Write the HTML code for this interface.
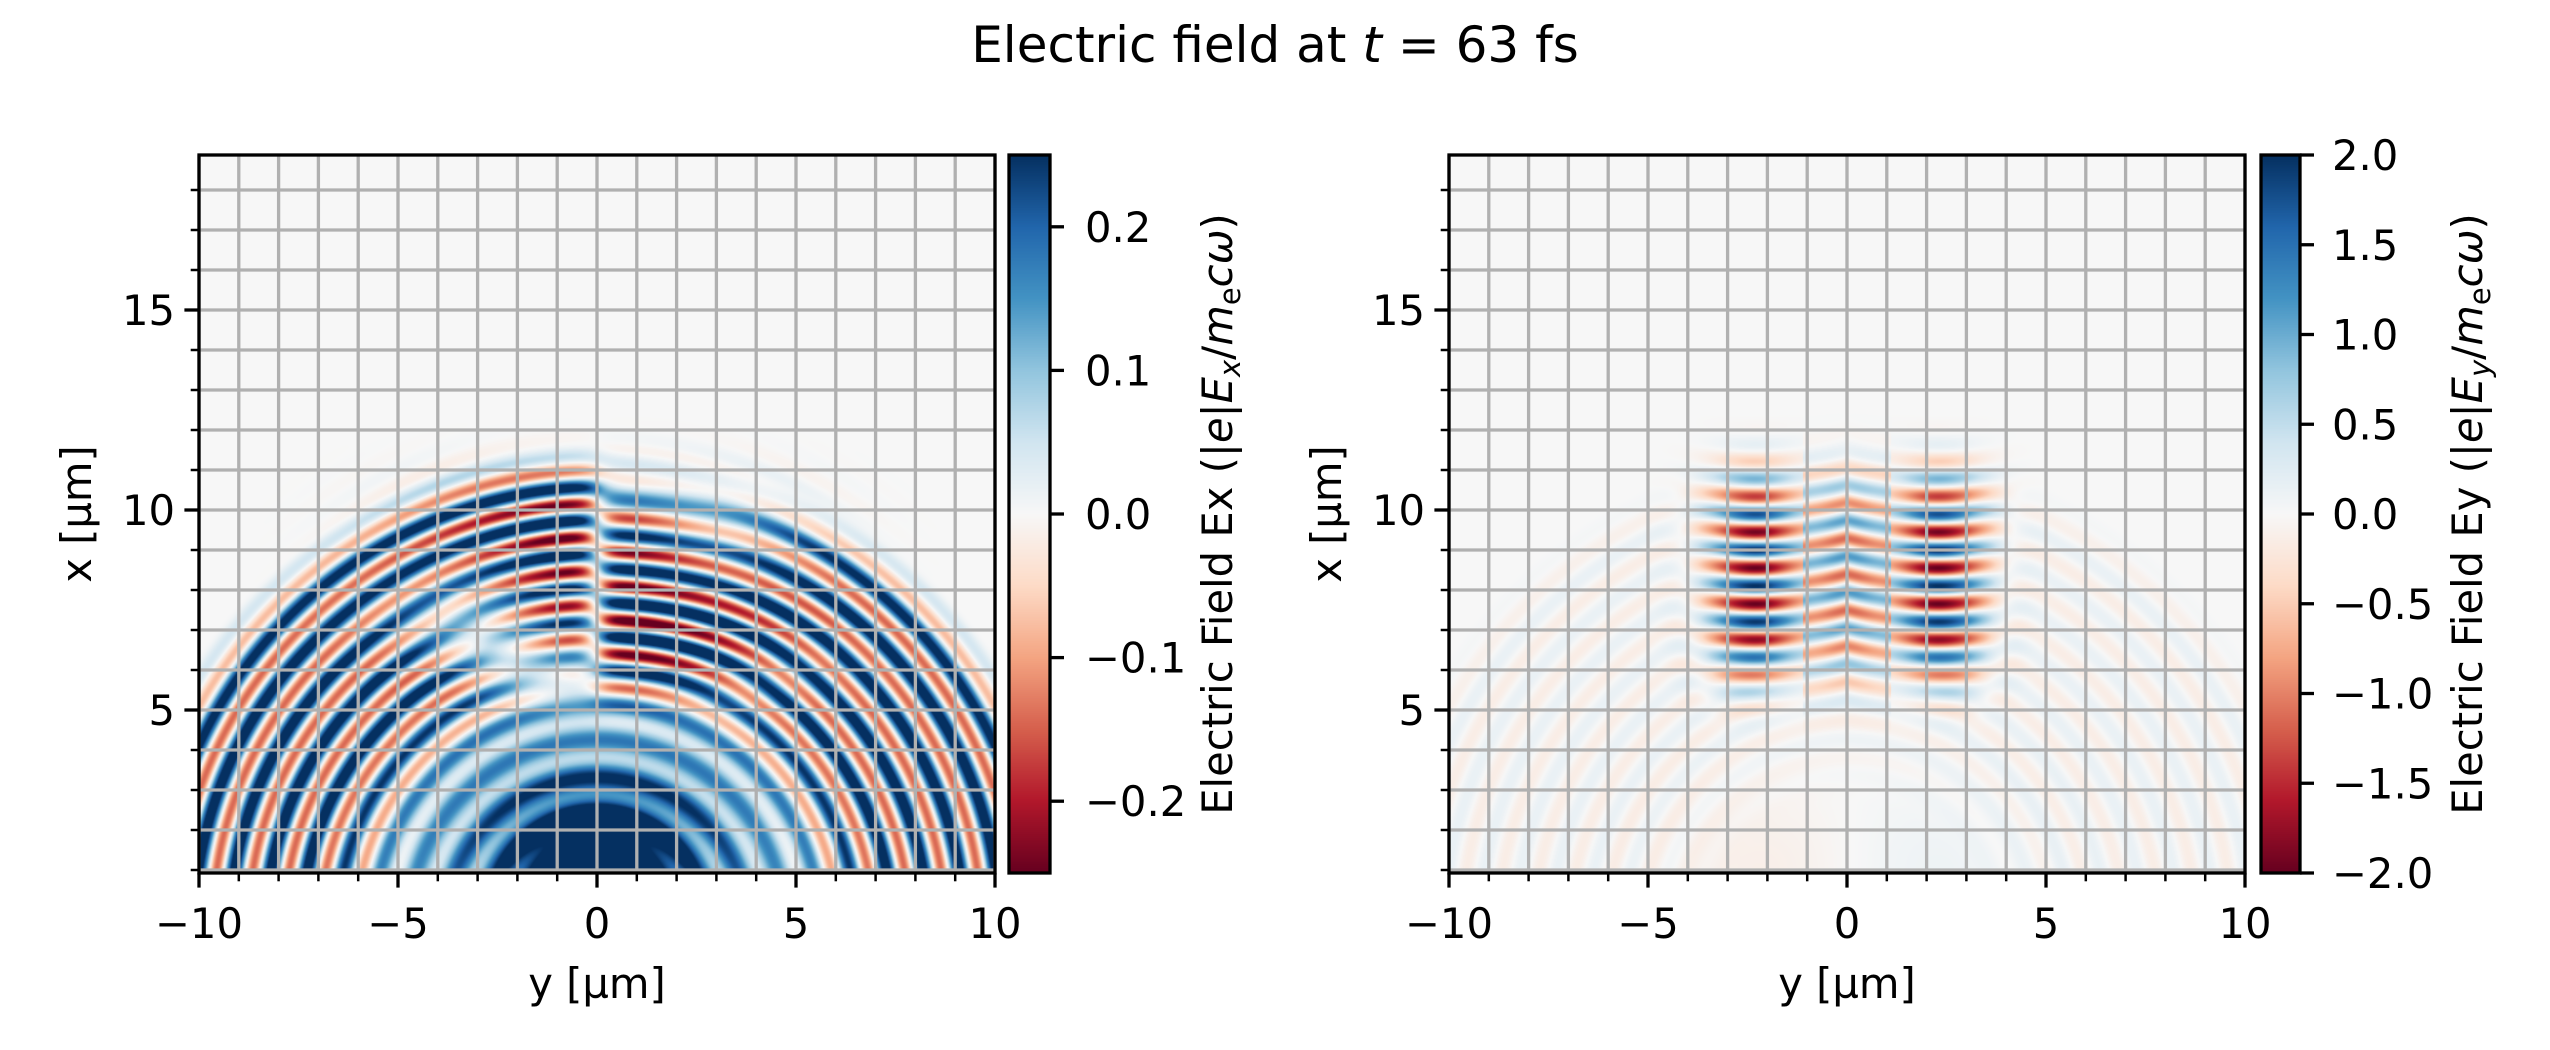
<!DOCTYPE html>
<html><head><meta charset="utf-8"><style>
body{margin:0;background:#fff;}
#w{position:relative;width:2550px;height:1050px;overflow:hidden;background:#fff;}
canvas{position:absolute;}
svg{position:absolute;left:0;top:0;}
text{font-family:"DejaVu Sans","Liberation Sans",sans-serif;fill:#000;}
</style></head><body><div id="w">
<canvas id="c1" width="796" height="718" style="left:199px;top:155px"></canvas>
<canvas id="c2" width="796" height="718" style="left:1449px;top:155px"></canvas>
<canvas id="cb1" width="41" height="718" style="left:1009px;top:155px"></canvas>
<canvas id="cb2" width="39" height="718" style="left:2261px;top:155px"></canvas>
<svg id="s" width="2550" height="1050"></svg>
</div>
<script>
var stops=[[103,0,31],[178,24,43],[214,96,77],[244,165,130],[253,219,199],[247,247,247],[209,229,240],[146,197,222],[67,147,195],[33,102,172],[5,48,97]];
function cmap(v){
 if(v<-1)v=-1; if(v>1)v=1;
 var t=(v+1)/2*10, i=Math.floor(t); if(i>=10)i=9; var f=t-i;
 var a=stops[i],b=stops[i+1];
 return [a[0]+(b[0]-a[0])*f,a[1]+(b[1]-a[1])*f,a[2]+(b[2]-a[2])*f];
}
var W=796,H=718,Y0=155,Y1=873,PU=40.0;
function py(x){return 510-(x-10)*PU;}
function xOf(p){return 10+(510-Y0-p)/PU;}
function yOf(px){return -10+px*20/W;}
function ss(a,b,x){var t=(x-a)/(b-a);t=t<0?0:t>1?1:t;return t*t*(3-2*t);}
function Ex(y,x){
 var r=Math.hypot(y,x+0.5);
 var amp=ss(12.2,10.8,r)*(0.3+0.7*ss(4.5,7.5,r));
 var ring=Math.sin(2*Math.PI*r/0.9);
 var v=0.22*amp*(ring+0.35);
 var ex=Math.exp(-Math.pow((x-8.2)/2.6,4))*Math.exp(-Math.pow(y/3.4,2));
 v=v*(1-0.7*ex)+0.3*ex*Math.cos(2*Math.PI*(x+0.05*y*y)/0.85)*Math.tanh(y/0.4);
 v+=0.3*Math.exp(-(Math.pow(y/2.8,2)+Math.pow((x-1.2)/2.2,2))*1.3);
 v+=0.07*ss(6,4.5,Math.hypot(y,x))*(1+0.3*Math.sin(2*Math.PI*r/1.2));
 return v/0.25;
}
function Ey(y,x){
 var ay=Math.abs(y);
 var col=Math.exp(-Math.pow((ay-2.3)/1.15,2));
 var cen=0.5*Math.exp(-Math.pow(y/0.9,2));
 var xe=Math.exp(-Math.pow((x-8.3)/2.7,4));
 var ph=2*Math.PI*(x-0.06*(ay-2.3)*(ay-2.3))/0.9+(ay<1.1?Math.PI:0);
 var v=2.0*(col+cen)*xe*Math.cos(ph);
 var r=Math.hypot(y,x+0.5);
 v+=0.14*ss(12.3,11,r)*ss(3,6,r)*Math.sin(2*Math.PI*r/0.9)*(1-xe*col);
 v+=-0.12*Math.exp(-(Math.pow((y+2)/2.5,2)+Math.pow((x-1)/2,2)));
 v+=0.1*Math.exp(-(Math.pow((y-2)/2.5,2)+Math.pow((x-1)/2,2)));
 return v/2;
}
function draw(id,f){
 var c=document.getElementById(id).getContext('2d');var im=c.createImageData(W,H);var d=im.data;
 for(var p=0;p<H;p++){var x=xOf(p+0.5);for(var px=0;px<W;px++){var y=yOf(px+0.5);var col=cmap(f(y,x));var k=(p*W+px)*4;d[k]=col[0];d[k+1]=col[1];d[k+2]=col[2];d[k+3]=255;}}
 c.putImageData(im,0,0);
}
draw('c1',Ex);draw('c2',Ey);
function cbar(id,w){var c=document.getElementById(id).getContext('2d');for(var p=0;p<H;p++){var col=cmap(1-2*p/(H-1));c.fillStyle='rgb('+col.map(Math.round).join(',')+')';c.fillRect(0,p,w,1);}}
cbar('cb1',41);cbar('cb2',39);

var s='';
function L(x1,y1,x2,y2,c,w){s+='<line x1="'+x1+'" y1="'+y1+'" x2="'+x2+'" y2="'+y2+'" stroke="'+c+'" stroke-width="'+w+'"/>';}
function T(x,y,t,a,extra){s+='<text x="'+x+'" y="'+y+'" font-size="41.7" text-anchor="'+(a||'middle')+'" '+(extra||'')+'>'+t+'</text>';}
var MID=(Y0+Y1)/2;
[[199,995],[1449,2245]].forEach(function(ax){
 var X0=ax[0],X1=ax[1];
 for(var i=-10;i<=10;i++){var px=X0+(i+10)*(X1-X0)/20;L(px,Y0,px,Y1,'#b0b0b0',3.3);
  L(px,Y1,px,Y1+(i%5==0?14.6:8.3),'#000',(i%5==0?3.3:2.5));}
 for(var x=1;x<=18;x++){var p=py(x);L(X0,p,X1,p,'#b0b0b0',3.3);L(X0,p,X0-(x%5==0?14.6:8.3),p,'#000',(x%5==0?3.3:2.5));}
 s+='<rect x="'+X0+'" y="'+Y0+'" width="'+(X1-X0)+'" height="'+(Y1-Y0)+'" fill="none" stroke="#000" stroke-width="3.3"/>';
 [-10,-5,0,5,10].forEach(function(v){var px=X0+(v+10)*(X1-X0)/20;T(px,938,(v<0?'\u2212':'')+Math.abs(v));});
 [5,10,15].forEach(function(v){T(X0-24,py(v)+15,v,'end');});
 T((X0+X1)/2,998,'y [µm]');
 T(0,0,'x [µm]','middle','transform="translate('+(X0-108)+','+MID+') rotate(-90)"');
});
s+='<rect x="1009" y="'+Y0+'" width="41" height="'+(Y1-Y0)+'" fill="none" stroke="#000" stroke-width="3.3"/>';
[0.2,0.1,0,-0.1,-0.2].forEach(function(v){var p=MID-v*(H/0.5);L(1050,p,1064,p,'#000',3.3);T(1085,p+15,(v<0?'\u2212':'')+Math.abs(v).toFixed(1),'start');});
T(0,0,'Electric Field Ex (|<tspan font-style="italic">e</tspan>|<tspan font-style="italic">E</tspan><tspan font-size="29" dy="8" font-style="italic">x</tspan><tspan dy="-8">/</tspan><tspan font-style="italic">m</tspan><tspan font-size="29" dy="8">e</tspan><tspan dy="-8" font-style="italic">cω</tspan>)','middle','transform="translate(1232,'+MID+') rotate(-90)"');
s+='<rect x="2261" y="'+Y0+'" width="39" height="'+(Y1-Y0)+'" fill="none" stroke="#000" stroke-width="3.3"/>';
[2,1.5,1,0.5,0,-0.5,-1,-1.5,-2].forEach(function(v){var p=MID-v*(H/4);L(2300,p,2314,p,'#000',3.3);T(2332,p+15,(v<0?'\u2212':'')+Math.abs(v).toFixed(1),'start');});
T(0,0,'Electric Field Ey (|<tspan font-style="italic">e</tspan>|<tspan font-style="italic">E</tspan><tspan font-size="29" dy="8" font-style="italic">y</tspan><tspan dy="-8">/</tspan><tspan font-style="italic">m</tspan><tspan font-size="29" dy="8">e</tspan><tspan dy="-8" font-style="italic">cω</tspan>)','middle','transform="translate(2482,'+MID+') rotate(-90)"');
s+='<text x="1275" y="62" font-size="50" text-anchor="middle">Electric field at <tspan font-style="italic">t</tspan> = 63 fs</text>';
document.getElementById('s').innerHTML=s;
</script></body></html>
